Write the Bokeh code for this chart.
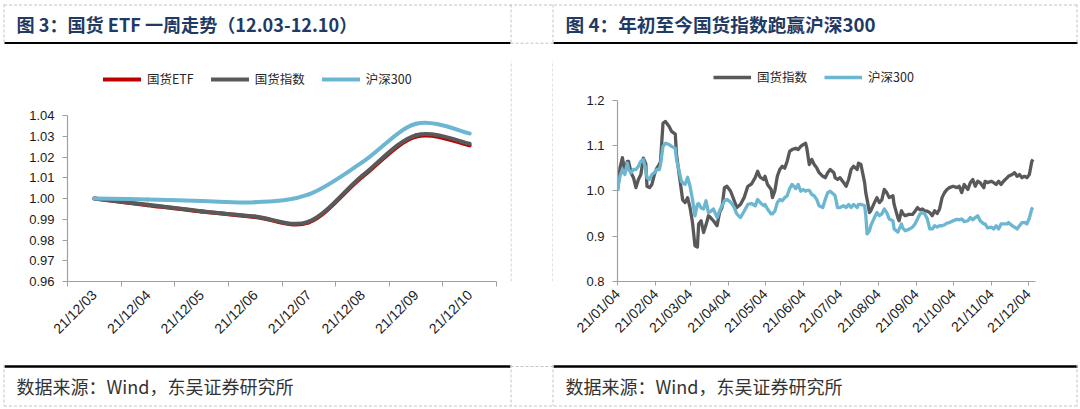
import math
import pandas as pd
from bokeh.plotting import figure
from bokeh.layouts import row, column
from bokeh.models import (Range1d, FixedTicker, NumeralTickFormatter, DatetimeTickFormatter,
                          Legend, LegendItem, ColumnDataSource)
from bokeh.core.properties import value
from bokeh.embed import file_html
from bokeh.resources import INLINE

# ---------------- data ----------------
title_left = "图 3：国货 ETF 一周走势（12.03-12.10）"
title_right = "图 4：年初至今国货指数跑赢沪深300"
source_note = "数据来源：Wind，东吴证券研究所"

week_labels = ["21/12/03", "21/12/04", "21/12/05", "21/12/06",
               "21/12/07", "21/12/08", "21/12/09", "21/12/10"]
etf_week = [1.000, 0.9968, 0.9937, 0.9911, 0.9885, 1.0105, 1.0298, 1.0256]
index_week = [1.000, 0.9970, 0.9939, 0.9913, 0.9889, 1.0110, 1.0305, 1.0264]
csi_week = [1.000, 0.9995, 0.9988, 0.9982, 1.0020, 1.0175, 1.0360, 1.0313]
week_y_ticks = [0.96, 0.97, 0.98, 0.99, 1.00, 1.01, 1.02, 1.03, 1.04]

ytd_dates = [
    "2021-01-04", "2021-01-06", "2021-01-08", "2021-01-10", "2021-01-12", "2021-01-13",
    "2021-01-15", "2021-01-17", "2021-01-19", "2021-01-21", "2021-01-23", "2021-01-25",
    "2021-01-27", "2021-01-28", "2021-01-30", "2021-02-01", "2021-02-03", "2021-02-05",
    "2021-02-07", "2021-02-08", "2021-02-10", "2021-02-12", "2021-02-15", "2021-02-17",
    "2021-02-20", "2021-02-21", "2021-02-23", "2021-02-25", "2021-02-26", "2021-02-28",
    "2021-03-02", "2021-03-04", "2021-03-06", "2021-03-08", "2021-03-10", "2021-03-11",
    "2021-03-13", "2021-03-15", "2021-03-17", "2021-03-19", "2021-03-21", "2021-03-23",
    "2021-03-26", "2021-03-28", "2021-03-30", "2021-04-01", "2021-04-03", "2021-04-06",
    "2021-04-09", "2021-04-11", "2021-04-14", "2021-04-17", "2021-04-20", "2021-04-23",
    "2021-04-26", "2021-04-28", "2021-04-30", "2021-05-03", "2021-05-04", "2021-05-06",
    "2021-05-09", "2021-05-10", "2021-05-12", "2021-05-14", "2021-05-16", "2021-05-18",
    "2021-05-20", "2021-05-22", "2021-05-24", "2021-05-26", "2021-05-29", "2021-05-31",
    "2021-06-02", "2021-06-04", "2021-06-06", "2021-06-07", "2021-06-09", "2021-06-11",
    "2021-06-13", "2021-06-15", "2021-06-17", "2021-06-20", "2021-06-22", "2021-06-24",
    "2021-06-26", "2021-06-29", "2021-06-30", "2021-07-02", "2021-07-04", "2021-07-07",
    "2021-07-09", "2021-07-11", "2021-07-13", "2021-07-15", "2021-07-18", "2021-07-19",
    "2021-07-21", "2021-07-24", "2021-07-25", "2021-07-26", "2021-07-28", "2021-07-29",
    "2021-08-01", "2021-08-03", "2021-08-05", "2021-08-07", "2021-08-09", "2021-08-11",
    "2021-08-13", "2021-08-16", "2021-08-17", "2021-08-20", "2021-08-21", "2021-08-23",
    "2021-08-24", "2021-08-26", "2021-08-29", "2021-09-01", "2021-09-03", "2021-09-05",
    "2021-09-07", "2021-09-09", "2021-09-11", "2021-09-13", "2021-09-15", "2021-09-17",
    "2021-09-19", "2021-09-21", "2021-09-23", "2021-09-25", "2021-09-27", "2021-09-29",
    "2021-10-01", "2021-10-04", "2021-10-07", "2021-10-09", "2021-10-11", "2021-10-13",
    "2021-10-16", "2021-10-18", "2021-10-20", "2021-10-22", "2021-10-24", "2021-10-26",
    "2021-10-29", "2021-10-30", "2021-11-01", "2021-11-04", "2021-11-06", "2021-11-08",
    "2021-11-10", "2021-11-12", "2021-11-14", "2021-11-17", "2021-11-18", "2021-11-21",
    "2021-11-23", "2021-11-25", "2021-11-27", "2021-11-29", "2021-12-01", "2021-12-03",
    "2021-12-05", "2021-12-07", "2021-12-08",
]
index_ytd = [
    1.000, 1.050, 1.073, 1.043, 1.065, 1.065, 1.040, 1.029, 1.007, 1.025, 1.036, 1.072,
    1.060, 1.010, 1.007, 1.014, 1.036, 1.050, 1.058, 1.065, 1.149, 1.153, 1.142, 1.131,
    1.125, 1.080, 1.040, 1.000, 0.980, 0.974, 0.985, 0.963, 0.930, 0.879, 0.876, 0.927,
    0.934, 0.908, 0.925, 0.945, 0.940, 0.934, 0.923, 0.952, 0.963, 1.007, 1.010, 0.999,
    0.978, 0.963, 0.970, 0.985, 1.010, 1.015, 1.029, 1.043, 1.030, 1.025, 1.032, 1.014,
    1.003, 0.985, 1.000, 1.032, 1.047, 1.054, 1.050, 1.065, 1.087, 1.091, 1.094, 1.091,
    1.098, 1.102, 1.105, 1.094, 1.058, 1.069, 1.058, 1.051, 1.040, 1.032, 1.029, 1.040,
    1.047, 1.040, 1.029, 1.025, 1.029, 1.018, 1.010, 1.025, 1.047, 1.054, 1.047, 1.061,
    1.058, 1.018, 0.995, 0.981, 0.952, 0.956, 0.974, 0.985, 0.974, 0.980, 1.003, 0.996,
    0.985, 0.989, 0.970, 0.941, 0.934, 0.956, 0.950, 0.945, 0.948, 0.948, 0.955, 0.963,
    0.958, 0.960, 0.956, 0.955, 0.952, 0.945, 0.956, 0.950, 0.960, 0.985, 0.996, 1.003,
    1.007, 1.010, 1.007, 1.010, 0.996, 1.014, 1.003, 1.018, 1.025, 1.010, 1.021, 1.018,
    1.007, 1.021, 1.018, 1.021, 1.018, 1.014, 1.021, 1.014, 1.021, 1.029, 1.032, 1.036,
    1.040, 1.032, 1.036, 1.029, 1.032, 1.029, 1.036, 1.065, 1.069,
]
csi_ytd = [
    1.000, 1.032, 1.047, 1.036, 1.061, 1.047, 1.040, 1.047, 1.047, 1.054, 1.065, 1.069,
    1.047, 1.029, 1.025, 1.036, 1.040, 1.047, 1.047, 1.058, 1.098, 1.105, 1.102, 1.098,
    1.094, 1.069, 1.045, 1.021, 1.018, 1.014, 1.030, 1.010, 0.981, 0.945, 0.970, 0.972,
    0.962, 0.960, 0.978, 0.952, 0.955, 0.960, 0.941, 0.956, 0.967, 0.978, 0.981, 0.975,
    0.963, 0.949, 0.941, 0.955, 0.970, 0.972, 0.967, 0.981, 0.974, 0.967, 0.970, 0.960,
    0.949, 0.949, 0.955, 0.974, 0.981, 0.978, 0.985, 0.989, 1.005, 1.014, 1.005, 1.014,
    0.999, 1.003, 0.999, 1.001, 1.001, 0.992, 0.989, 0.981, 0.967, 0.963, 0.981, 0.996,
    0.999, 0.992, 0.989, 0.963, 0.963, 0.967, 0.963, 0.970, 0.963, 0.970, 0.963, 0.970,
    0.970, 0.967, 0.945, 0.905, 0.912, 0.923, 0.941, 0.952, 0.945, 0.949, 0.960, 0.952,
    0.938, 0.934, 0.916, 0.909, 0.915, 0.927, 0.918, 0.912, 0.915, 0.920, 0.927, 0.938,
    0.949, 0.952, 0.949, 0.938, 0.916, 0.916, 0.923, 0.920, 0.923, 0.923, 0.925, 0.929,
    0.930, 0.934, 0.937, 0.936, 0.938, 0.932, 0.934, 0.941, 0.936, 0.941, 0.945, 0.934,
    0.927, 0.927, 0.918, 0.920, 0.916, 0.923, 0.916, 0.927, 0.927, 0.927, 0.930, 0.923,
    0.920, 0.916, 0.923, 0.930, 0.930, 0.927, 0.940, 0.960, 0.963,
]
ytd_tick_dates = ["2021-01-04", "2021-02-04", "2021-03-04", "2021-04-04", "2021-05-04",
                  "2021-06-04", "2021-07-04", "2021-08-04", "2021-09-04", "2021-10-04",
                  "2021-11-04", "2021-12-04"]
ytd_y_ticks = [0.8, 0.9, 1.0, 1.1, 1.2]
ytd_start, ytd_end = "2021-01-04", "2021-12-10"

# ---------------- style ----------------
RED, GREY, BLUE = "#C00000", "#595959", "#6CB6D2"
AXIS = "#A0A0A0"
LBL = "#1a1a1a"
CJK = "Noto Sans CJK SC"
LAT = "Liberation Sans"
TITLE_C = "#1F3A64"
DASH = "#C4C4C4"

W, H = 1080, 409
left_w, gap_w = 510, 43
right_w = W - left_w - gap_w
top_h, mid_h = 44, 320
bot_h = H - top_h - mid_h


def base_fig(w, h, **kw):
    p = figure(width=w, height=h, output_backend="svg", toolbar_location=None, **kw)
    p.outline_line_color = None
    p.grid.visible = False
    p.background_fill_color = "white"
    p.border_fill_color = "white"
    p.min_border = 0
    return p


def style_axes(p):
    for ax in p.axis:
        ax.axis_line_color = AXIS
        ax.axis_line_width = 1.2
        ax.major_tick_line_color = AXIS
        ax.minor_tick_line_color = None
        ax.major_label_text_font = LAT
        ax.major_label_text_color = LBL


def smooth_segments(xs, ys):
    n = len(xs)
    out = dict(x0=[], y0=[], x1=[], y1=[], cx0=[], cy0=[], cx1=[], cy1=[])
    for i in range(n - 1):
        xm, ym = (xs[i - 1], ys[i - 1]) if i > 0 else (xs[i], ys[i])
        xp, yp = (xs[i + 2], ys[i + 2]) if i + 2 < n else (xs[i + 1], ys[i + 1])
        out["x0"].append(xs[i]); out["y0"].append(ys[i])
        out["x1"].append(xs[i + 1]); out["y1"].append(ys[i + 1])
        out["cx0"].append(xs[i] + (xs[i + 1] - xm) / 6.0)
        out["cy0"].append(ys[i] + (ys[i + 1] - ym) / 6.0)
        out["cx1"].append(xs[i + 1] - (xp - xs[i]) / 6.0)
        out["cy1"].append(ys[i + 1] - (yp - ys[i]) / 6.0)
    return ColumnDataSource(out)


def extended_top(lo, hi, axis_px, frame_px):
    # the frame is taller than the axis so the legend fits above the plotted area
    return lo + (hi - lo) * frame_px / axis_px


# ---------------- header ----------------
head = base_fig(W, top_h, x_range=Range1d(0, W), y_range=Range1d(top_h, 0),
                x_axis_location=None, y_axis_location=None)
head.text(x=[16], y=[23], text=[title_left], text_font=value(CJK), text_font_style="bold",
          text_font_size="18.1px", text_color=TITLE_C, text_baseline="middle")
head.text(x=[565], y=[23], text=[title_right], text_font=value(CJK), text_font_style="bold",
          text_font_size="18.7px", text_color=TITLE_C, text_baseline="middle")
head.segment(x0=[4, 553], y0=[42.7, 42.7], x1=[510, 1077], y1=[42.7, 42.7],
             line_color="black", line_width=2.6)
head.segment(x0=[3.5, 510.5, 552.5, 3.5, 510, 1076.5],
             y0=[4, 4, 4, 4.5, 42.7, 4],
             x1=[3.5, 510.5, 552.5, 1077, 553, 1076.5],
             y1=[44, 44, 44, 4.5, 42.7, 44],
             line_color=DASH, line_width=1, line_dash="3 2")

# ---------------- left chart ----------------
xs = [i + 0.5 for i in range(len(week_labels))]
L_top, L_bottom = 16, 83
L_frame = mid_h - L_top - L_bottom
L_axis_px = 166
pL = base_fig(left_w, mid_h, x_range=Range1d(0, len(week_labels)),
              y_range=Range1d(week_y_ticks[0],
                              extended_top(week_y_ticks[0], week_y_ticks[-1], L_axis_px, L_frame)))
pL.min_border_left = 67
pL.min_border_right = 14
pL.min_border_top = L_top
pL.min_border_bottom = L_bottom
rL = []
for ys, col in [(etf_week, RED), (index_week, GREY), (csi_week, BLUE)]:
    src = smooth_segments(xs, ys)
    rL.append(pL.bezier(x0="x0", y0="y0", x1="x1", y1="y1", cx0="cx0", cy0="cy0",
                        cx1="cx1", cy1="cy1", source=src, line_color=col, line_width=4,
                        line_cap="round"))
style_axes(pL)
pL.xaxis.ticker = FixedTicker(ticks=xs, minor_ticks=list(range(len(week_labels) + 1)))
pL.xaxis.major_label_overrides = {x: l for x, l in zip(xs, week_labels)}
pL.xaxis.major_tick_out = 0
pL.xaxis.major_tick_in = 0
pL.xaxis.minor_tick_line_color = AXIS
pL.xaxis.minor_tick_out = 5
pL.xaxis.minor_tick_in = 0
pL.xaxis.major_label_orientation = math.pi / 4
pL.xaxis.major_label_text_font_size = "14px"
pL.xaxis.major_label_standoff = 6
pL.yaxis.ticker = FixedTicker(ticks=week_y_ticks)
pL.yaxis.bounds = (week_y_ticks[0], week_y_ticks[-1])
pL.yaxis.formatter = NumeralTickFormatter(format="0.00")
pL.yaxis.major_tick_out = 5
pL.yaxis.major_tick_in = 0
pL.yaxis.major_label_text_font_size = "13px"
pL.yaxis.major_label_standoff = 8
legL = Legend(items=[LegendItem(label="国货ETF", renderers=[rL[0]]),
                     LegendItem(label="国货指数", renderers=[rL[1]]),
                     LegendItem(label="沪深300", renderers=[rL[2]])],
              location=(36, 193), orientation="horizontal")

# ---------------- gap ----------------
gap = base_fig(gap_w, mid_h, x_range=Range1d(0, gap_w), y_range=Range1d(0, mid_h),
               x_axis_location=None, y_axis_location=None)
gap.segment(x0=[0.5, gap_w - 0.5], y0=[0, 0], x1=[0.5, gap_w - 0.5], y1=[mid_h, mid_h],
            line_color=DASH, line_width=1, line_dash="3 2")

# ---------------- right chart ----------------
R_top, R_bottom = 16, 81
R_frame = mid_h - R_top - R_bottom
R_axis_px = 183
dts = pd.to_datetime(ytd_dates)
srcR = ColumnDataSource(dict(d=dts, idx=index_ytd, csi=csi_ytd))
pR = base_fig(right_w, mid_h, x_axis_type="datetime",
              x_range=Range1d(pd.Timestamp(ytd_start), pd.Timestamp(ytd_end)),
              y_range=Range1d(ytd_y_ticks[0],
                              extended_top(ytd_y_ticks[0], ytd_y_ticks[-1], R_axis_px, R_frame)))
pR.min_border_left = 64
pR.min_border_right = 45
pR.min_border_top = R_top
pR.min_border_bottom = R_bottom
r1 = pR.line("d", "idx", source=srcR, line_color=GREY, line_width=3.3, line_join="round")
r2 = pR.line("d", "csi", source=srcR, line_color=BLUE, line_width=3.3, line_join="round")
style_axes(pR)
tick_ms = [pd.Timestamp(t).value // 10**6 for t in ytd_tick_dates]
pR.xaxis.ticker = FixedTicker(ticks=tick_ms)
fmt = "%y/%m/%d"
pR.xaxis.formatter = DatetimeTickFormatter(milliseconds=fmt, seconds=fmt, minsec=fmt, minutes=fmt,
                                           hourmin=fmt, hours=fmt, days=fmt, months=fmt, years=fmt)
pR.xaxis.major_tick_out = 4
pR.xaxis.major_tick_in = 0
pR.xaxis.major_label_orientation = math.pi / 4
pR.xaxis.major_label_text_font_size = "14px"
pR.xaxis.major_label_standoff = 6
pR.yaxis.ticker = FixedTicker(ticks=ytd_y_ticks)
pR.yaxis.bounds = (ytd_y_ticks[0], ytd_y_ticks[-1])
pR.yaxis.formatter = NumeralTickFormatter(format="0.0")
pR.yaxis.major_tick_out = 5
pR.yaxis.major_tick_in = 0
pR.yaxis.major_label_text_font_size = "13px"
pR.yaxis.major_label_standoff = 8
legR = Legend(items=[LegendItem(label="国货指数", renderers=[r1]),
                     LegendItem(label="沪深300", renderers=[r2])],
              location=(96, 195), orientation="horizontal")

for p, lg in [(pL, legL), (pR, legR)]:
    lg.glyph_width = 38
    lg.glyph_height = 12
    lg.label_height = 12
    lg.label_standoff = 6
    lg.spacing = 17
    lg.padding = 0
    lg.margin = 0
    lg.border_line_color = None
    lg.background_fill_alpha = 0
    lg.label_text_font = CJK
    lg.label_text_font_size = "12.5px"
    lg.label_text_color = "#262626"
    lg.label_text_baseline = "middle"
    p.add_layout(lg)

# ---------------- footer ----------------
foot = base_fig(W, bot_h, x_range=Range1d(0, W), y_range=Range1d(H, H - bot_h),
                x_axis_location=None, y_axis_location=None)
foot.segment(x0=[4, 553], y0=[366, 366], x1=[510, 1077], y1=[366, 366],
             line_color="black", line_width=2.6)
foot.segment(x0=[3.5, 510.5, 552.5, 3.5, 510, 1076.5],
             y0=[364, 364, 364, 405.5, 366, 364],
             x1=[3.5, 510.5, 552.5, 1077, 553, 1076.5],
             y1=[405.5, 405.5, 405.5, 405.5, 366, 405.5],
             line_color=DASH, line_width=1, line_dash="3 2")
foot.text(x=[16, 565], y=[385, 385], text=[source_note, source_note], text_font=value(CJK),
          text_font_size="18px", text_color="#333333", text_baseline="middle")

layout = column(head, row(pL, gap, pR), foot)
open("out.html", "w").write(file_html(layout, INLINE))
